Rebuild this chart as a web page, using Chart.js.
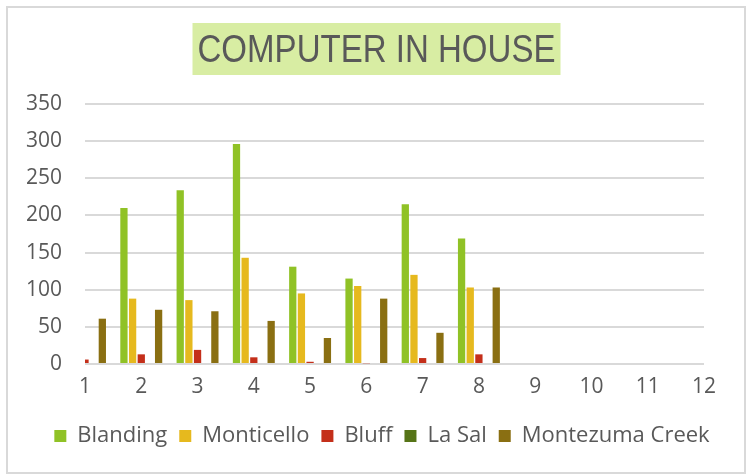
<!DOCTYPE html>
<html>
<head>
<meta charset="utf-8">
<script src="https://cdn.jsdelivr.net/npm/chart.js@4/dist/chart.umd.min.js"></script>
<style>
  html, body { margin: 0; padding: 0; background: #fff; }
  #frame {
    position: absolute; left: 6px; top: 6px; width: 740px; height: 468px;
    box-sizing: border-box; border: 2px solid #d9d9d9;
  }
  #wrap { position: absolute; left: 0; top: 0; width: 751px; height: 475px; }
</style>
</head>
<body>
<div id="frame"></div>
<div id="wrap"><canvas id="barChart" width="751" height="475"></canvas></div>
<script>
const chartTitle = 'COMPUTER IN HOUSE';
const categories = ['1', '2', '3', '4', '5', '6', '7', '8', '9', '10', '11', '12'];
const seriesNames = ['Blanding', 'Monticello', 'Bluff', 'La Sal', 'Montezuma Creek'];
const blanding   = [0, 210, 234, 296, 131, 115, 215, 169];
const monticello = [0, 88, 86, 143, 95, 105, 120, 103];
const bluff      = [6, 13, 19, 9, 3, 1, 8, 13];
const laSal      = [0, 0, 0, 0, 0, 0, 0, 0];
const montezuma  = [61, 73, 71, 58, 35, 88, 42, 103];
const yTicks = [0, 50, 100, 150, 200, 250, 300, 350];

const colors = ['#90C226', '#E6B91E', '#C42F1A', '#567417', '#8A6F12'];
const seriesData = [blanding, monticello, bluff, laSal, montezuma];
const textColor = '#595959';

// title with the green highlight box, drawn on the canvas (narrowed to fit like the original)
const titlePlugin = {
    id: 'boxTitle',
    afterDraw(chart) {
        const ctx = chart.ctx;
        const targetW = 358;
        const cx = 376.5;
        ctx.save();
        ctx.font = '38px "Liberation Sans", sans-serif';
        const w = ctx.measureText(chartTitle).width;
        ctx.fillStyle = '#D8EDA3';
        ctx.fillRect(cx - targetW / 2 - 5, 23, targetW + 10, 52);
        ctx.translate(cx, 62);
        ctx.scale(targetW / w, 1);
        ctx.fillStyle = textColor;
        ctx.textAlign = 'center';
        ctx.textBaseline = 'alphabetic';
        ctx.fillText(chartTitle, 0, 0);
        ctx.restore();
    }
};

const ctx = document.getElementById('barChart').getContext('2d');
new Chart(ctx, {
    type: 'bar',
    data: {
        labels: categories,
        datasets: seriesNames.map((name, i) => ({
            label: name,
            data: seriesData[i],
            backgroundColor: colors[i],
            borderWidth: 0,
            clip: 0,
            categoryPercentage: 0.77,
            barPercentage: 0.84
        }))
    },
    options: {
        responsive: false,
        animation: false,
        layout: { padding: { left: 13, right: 0, top: 104, bottom: 18 } },
        plugins: {
            title: { display: false },
            tooltip: { enabled: false },
            legend: {
                position: 'bottom',
                labels: {
                    boxWidth: 12,
                    boxHeight: 12,
                    padding: 12,
                    color: textColor,
                    font: { family: '"Open Sans", sans-serif', size: 22 }
                }
            }
        },
        scales: {
            x: {
                offset: false,
                grid: { display: false, drawTicks: false, offset: false },
                border: { display: false },
                ticks: {
                    color: textColor,
                    padding: 10,
                    maxRotation: 0,
                    autoSkip: false,
                    font: { family: '"Open Sans", sans-serif', size: 21 }
                },
                afterFit(scale) { scale.height = 49; }
            },
            y: {
                min: 0,
                max: 350,
                afterBuildTicks(scale) { scale.ticks = yTicks.map(v => ({ value: v })); },
                grid: { color: '#d9d9d9', lineWidth: 2, drawTicks: false },
                border: { display: false },
                ticks: {
                    color: textColor,
                    padding: 23,
                    font: { family: '"Open Sans", sans-serif', size: 21 }
                },
                afterFit(scale) { scale.width = 72; }
            },
            yRight: {
                position: 'right',
                display: true,
                grid: { display: false, drawTicks: false },
                border: { display: false },
                ticks: { display: false },
                afterFit(scale) { scale.width = 47; }
            }
        }
    },
    plugins: [titlePlugin]
});
</script>
</body>
</html>
